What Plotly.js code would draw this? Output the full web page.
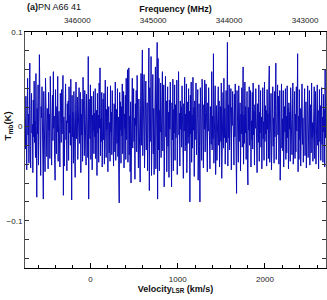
<!DOCTYPE html>
<html>
<head>
<meta charset="utf-8">
<script src="https://cdn.plot.ly/plotly-3.0.1.min.js"></script>
<style>html,body{margin:0;padding:0;background:#fff;}#chart{width:327px;height:300px;}</style>
</head>
<body>
<div id="chart"></div>
<script>
// Spectrum channels: first velocity and channel spacing (km/s)
const velocityStart = -750;
const velocityStep = 5;
// Main-beam temperature (K) per channel
const tmb = [
.008,-.024,.032,-.003,-.046,.017,.051,-.009,.013,-.039,.004,.067,-.021,-.044,.012,.035,-.007,.002,-.049,.028,
-.011,.048,-.017,.006,-.033,.056,.001,-.075,.019,-.008,.044,-.041,.011,.076,-.015,.003,-.052,.021,.009,.042,
-.028,.012,-.077,.037,-.005,.016,-.048,.051,-.012,.002,-.032,.019,.007,-.045,.036,-.004,.013,-.034,.053,-.009,
.018,-.041,.006,.033,-.015,.058,-.002,.011,-.035,-.057,.039,.008,-.029,.021,-.006,.053,-.037,.003,.016,-.022,
-.043,.035,.001,-.017,.039,-.008,.014,.054,-.073,.01,-.042,.019,-.003,.045,-.014,.006,-.047,.024,.004,.027,
-.036,.042,-.007,.012,-.02,.05,.003,-.078,.033,-.011,.015,-.039,.037,-.002,.009,-.054,.018,.047,-.013,.001,
.031,-.035,.009,-.006,.041,-.018,.004,.036,-.049,.013,-.009,.029,-.037,.052,.002,.011,-.031,.038,-.016,.005,
-.041,.034,-.004,.016,-.033,.074,-.077,.029,.007,-.013,.044,-.035,.002,.032,-.046,.012,-.005,.037,-.029,.014,
-.011,.04,-.034,.003,.017,-.052,.035,-.007,.012,-.038,.046,-.002,.062,-.031,.008,-.016,.036,-.043,.005,.029,
-.014,.035,-.04,.011,.049,-.008,-.033,.018,-.003,.042,-.048,.009,.021,-.028,.004,-.037,.043,-.006,.015,-.03,
.038,-.012,.007,-.042,.024,.023,-.027,.047,-.036,.001,.018,-.018,.04,-.032,.01,-.051,-.081,.036,-.004,.026,
-.039,.021,-.01,.045,-.029,.006,.037,-.044,.013,-.002,.033,-.035,.051,-.014,.008,.06,-.038,.017,.062,-.03,
.011,-.048,.026,-.06,.02,-.007,.051,-.023,.003,.04,-.016,.009,-.056,.024,.001,.038,-.027,.054,-.009,.014,
-.044,.029,-.013,.007,-.059,.022,.056,-.02,.011,.081,-.031,.016,-.005,.055,-.044,.021,-.002,.048,-.025,.009,
.025,-.047,.014,.039,.083,-.068,.041,-.016,.01,.074,-.052,.028,-.008,.055,-.029,.019,-.051,.033,-.012,.063,
-.045,.022,-.018,.089,-.077,.072,-.025,.051,-.047,.017,-.006,.046,-.033,.023,-.013,.058,-.026,.012,.044,-.064,
.02,-.03,.053,-.011,.027,-.048,.006,.042,-.021,.015,-.054,.028,-.003,.047,-.017,.009,-.064,.025,-.014,.05,
-.047,.018,-.007,.044,-.036,.023,-.012,.005,.049,-.051,.019,-.025,.058,-.009,.014,-.042,.027,-.003,.021,-.022,
.043,-.016,.01,-.055,.024,-.005,.052,-.026,.013,-.02,.045,-.049,.007,.026,-.018,.04,-.011,.016,-.08,.033,
-.008,.047,-.038,.012,-.023,.052,-.004,.02,-.053,.027,-.014,.009,.046,-.03,.017,-.001,.039,-.057,.011,.024,
-.021,-.08,.041,-.01,.019,-.036,.05,-.015,.006,-.044,.023,-.003,.049,-.027,.015,.045,-.018,.009,-.048,.025,
-.005,.041,-.023,.016,-.045,.021,.004,-.019,.058,-.025,.011,-.013,.077,-.039,.018,-.007,.043,-.051,.012,.022,
-.036,.016,-.009,.042,-.02,.027,-.043,.007,.021,-.016,.046,-.055,.013,-.003,.036,-.023,.051,-.012,.019,-.04,
.01,.038,-.017,.005,.089,-.042,.023,-.012,.044,-.025,.015,-.006,.04,-.046,.02,.001,.037,-.021,.012,-.041,
.034,-.011,.045,-.019,.007,-.071,.038,-.003,.018,-.038,.043,-.016,.009,.025,-.047,.013,-.008,.041,-.022,.017,
.063,-.04,.012,-.018,.047,-.007,.021,-.035,.014,.037,-.044,-.062,.02,-.004,.042,-.02,.011,.038,-.043,.006,
-.014,.036,-.024,.046,-.009,.016,-.041,.023,-.002,.04,-.019,.012,-.049,.024,.008,-.017,.044,-.037,.015,-.007,
.038,-.022,.01,-.045,.02,.041,-.013,.005,-.036,.047,-.016,.022,-.008,.017,-.042,.039,-.003,.013,-.034,.043,
.064,-.038,.012,-.015,.035,-.046,.019,-.005,.042,-.021,.009,-.039,.037,-.011,.016,.067,-.035,.006,-.019,.044,
-.009,.032,-.04,.013,.038,-.057,.018,-.011,.045,-.023,.008,-.026,.038,-.043,.014,.021,-.006,.04,-.035,.011,
-.028,.043,-.012,.02,-.045,.025,-.003,.015,-.037,.041,-.01,.023,-.03,.007,.046,-.04,.017,-.008,.037,-.034,
.013,-.027,.042,-.005,.021,.077,-.048,.011,-.035,.039,-.014,.019,-.042,.024,-.002,.045,-.019,.009,-.038,.016,
-.011,.04,-.031,.014,.026,-.044,.007,-.015,.043,-.033,.018,-.006,.038,-.041,.012,.023,-.028,.046,-.012,.004,
-.037,.02,-.008,.042,-.034,.015,.037,-.04,.009,-.014,.044,-.02,.017,-.045,.005,.039,-.016,.022,-.036,.012,
.041,-.019,.01,-.038,.034,-.006,.018,-.043,.06,-.012,.031
];
// Axis ranges and tick labels
const velocityRange = [-750, 2700];
const velocityTicks = [0, 1000, 2000];
const freqRange = [346688, 342724];
const freqTicks = [346000, 345000, 344000, 343000];
const tmbRange = [-0.15, 0.1];
const tmbTicks = [0.1, 0, -0.1];
const tmbTickText = ['0.1', '0', '\u22120.1'];
const panelLabel = '<b>(a)</b>PN A66 41';

const tickFont = {family: 'Liberation Sans, Arial, sans-serif', size: 8, color: '#222'};
const titleFont = {family: 'Liberation Sans, Arial, sans-serif', size: 9, color: '#111'};

const traces = [
  {
    type: 'scatter', mode: 'lines',
    x0: velocityStart, dx: velocityStep, y: tmb,
    line: {color: '#0a0ab4', width: 1},
    hoverinfo: 'skip', showlegend: false
  },
  {
    type: 'scatter', mode: 'lines', x: [], y: [],
    xaxis: 'x2', yaxis: 'y', hoverinfo: 'skip', showlegend: false
  }
];

const layout = {
  width: 327, height: 300,
  margin: {l: 25, r: 1, t: 32, b: 32, pad: 0},
  paper_bgcolor: '#fff', plot_bgcolor: '#fff',
  showlegend: false,
  xaxis: {
    range: velocityRange, tickvals: velocityTicks, ticktext: velocityTicks.map(String),
    ticks: 'inside', ticklen: 5, tickwidth: 1, tickcolor: '#000', ticklabelstandoff: 3,
    minor: {dtick: 200, tick0: 0, ticks: 'inside', ticklen: 3, tickcolor: '#000', showgrid: false},
    showline: true, linecolor: '#000', linewidth: 1, mirror: true,
    showgrid: false, zeroline: false, tickfont: tickFont,
    title: {text: '<b>Velocity<sub>LSR</sub> (km/s)</b>', font: titleFont, standoff: 2}
  },
  xaxis2: {
    overlaying: 'x', side: 'top', anchor: 'y',
    range: freqRange, tickvals: freqTicks, ticktext: freqTicks.map(String),
    ticks: 'inside', ticklen: 5, tickwidth: 1, tickcolor: '#000', ticklabelstandoff: 6,
    minor: {dtick: 200, tick0: 0, ticks: 'inside', ticklen: 3, tickcolor: '#000', showgrid: false},
    showline: false, showgrid: false, zeroline: false, tickfont: tickFont,
    title: {text: '<b>Frequency (MHz)</b>', font: titleFont, standoff: 2}
  },
  yaxis: {
    range: tmbRange, tickvals: tmbTicks, ticktext: tmbTickText,
    ticks: 'inside', ticklen: 4, tickwidth: 1, tickcolor: '#333',
    minor: {dtick: 0.02, tick0: 0, ticks: 'inside', ticklen: 3, tickcolor: '#333', showgrid: false},
    showline: true, linecolor: '#555', linewidth: 1, mirror: 'allticks',
    showgrid: false, zeroline: false, tickfont: tickFont
  },
  annotations: [
    {
      text: '<b>T<sub>mb</sub>(K)</b>', xref: 'paper', yref: 'paper',
      x: 0, y: 0.6, xshift: -17, xanchor: 'center', yanchor: 'middle',
      textangle: -90, showarrow: false, font: {family: 'Liberation Sans, Arial, sans-serif', size: 9.5, color: '#111'}
    },
    {
      text: panelLabel, xref: 'paper', yref: 'paper',
      x: 0, y: 1, yshift: 32, xanchor: 'left', yanchor: 'top',
      showarrow: false, font: {family: 'Liberation Sans, Arial, sans-serif', size: 9, color: '#111'}
    }
  ]
};

Plotly.newPlot('chart', traces, layout, {displayModeBar: false, staticPlot: true});
</script>
</body>
</html>
